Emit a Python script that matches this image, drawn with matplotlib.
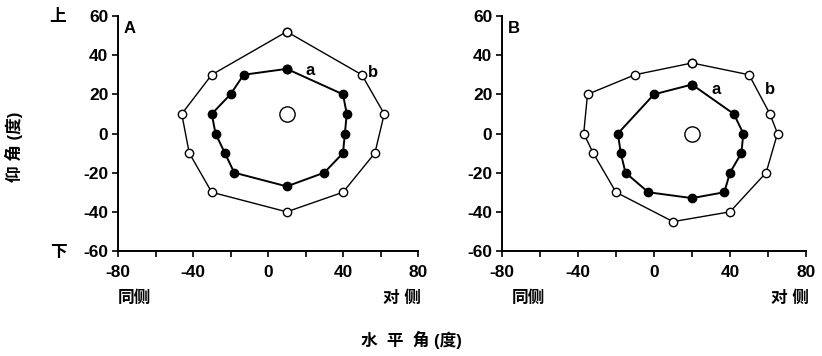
import numpy as np
import matplotlib.pyplot as plt

plt.rcParams['font.family'] = ['Liberation Sans', 'Noto Sans CJK SC']
plt.rcParams['font.weight'] = 'bold'
plt.rcParams['axes.unicode_minus'] = False

# panel A
a_in_x = [10, 40, 42, 41, 40, 30, 10, -18, -23, -28, -30, -20, -13]
a_in_y = [33, 20, 10, 0, -10, -20, -27, -20, -10, 0, 10, 20, 30]
a_out_x = [10, 50, 62, 57, 40, 10, -30, -42, -46, -30]
a_out_y = [52, 30, 10, -10, -30, -40, -30, -10, 10, 30]
a_center = (10, 10)

# panel B
b_in_x = [20, 42, 47, 46, 40, 37, 20, -3, -15, -17.5, -19, 0]
b_in_y = [25, 10, 0, -10, -20, -30, -33, -30, -20, -10, 0, 20]
b_out_x = [20, 50, 61, 65, 59, 40, 10, -20, -32, -37, -35, -10]
b_out_y = [36, 30, 10, 0, -20, -40, -45, -30, -10, 0, 20, 30]
b_center = (20, 0)

panels = [
    ('A', a_in_x, a_in_y, a_out_x, a_out_y, a_center, (22.5, 32), (56, 31)),
    ('B', b_in_x, b_in_y, b_out_x, b_out_y, b_center, (32.5, 22.5), (61, 22.5)),
]

fig = plt.figure(figsize=(8.22, 3.56), dpi=100)
rects = [[118 / 822, 105 / 356, 300 / 822, 235 / 356],
         [502 / 822, 105 / 356, 304 / 822, 235 / 356]]

for rect, (name, ix, iy, ox, oy, c, la, lb) in zip(rects, panels):
    ax = fig.add_axes(rect)
    ox_c = list(ox) + [ox[0]]
    oy_c = list(oy) + [oy[0]]
    ix_c = list(ix) + [ix[0]]
    iy_c = list(iy) + [iy[0]]
    ax.plot(ox_c, oy_c, '-o', color='black', lw=1.0, ms=6,
            mfc='white', mec='black', mew=1.0, clip_on=False)
    ax.plot(ix_c, iy_c, '-o', color='black', lw=1.4, ms=6,
            mfc='black', mec='black', clip_on=False)
    ax.plot([c[0]], [c[1]], 'o', ms=11, mfc='white', mec='black', mew=1.0)
    ax.text(la[0], la[1], 'a', fontsize=12, ha='center', va='center')
    ax.text(lb[0], lb[1], 'b', fontsize=12, ha='center', va='center')
    ax.text(0.02, 0.98, name, transform=ax.transAxes, fontsize=12,
            ha='left', va='top')
    ax.set_xlim(-80, 80)
    ax.set_ylim(-60, 60)
    ax.set_xticks([-80, -40, 0, 40, 80])
    ax.set_xticks([-60, -20, 20, 60], minor=True)
    ax.set_yticks([-60, -40, -20, 0, 20, 40, 60])
    ax.tick_params(which='both', direction='out', length=4, width=1.2,
                   labelsize=12.5, pad=3)
    ax.tick_params(axis='x', pad=6)
    for s in ['top', 'right']:
        ax.spines[s].set_visible(False)
    for s in ['left', 'bottom']:
        ax.spines[s].set_linewidth(1.4)
    ax.set_facecolor('none')

fs = 12
fig.text(134 / 822, 1 - 298 / 356, '同侧', fontsize=fs, ha='center', va='center')
fig.text(402 / 822, 1 - 298 / 356, '对 侧', fontsize=fs, ha='center', va='center')
fig.text(528 / 822, 1 - 298 / 356, '同侧', fontsize=fs, ha='center', va='center')
fig.text(790 / 822, 1 - 298 / 356, '对 侧', fontsize=fs, ha='center', va='center')
fig.text(58 / 822, 1 - 17 / 356, '上', fontsize=fs, ha='center', va='center')
fig.text(58 / 822, 1 - 252 / 356, '下', fontsize=fs, ha='center', va='center')
fig.text(14 / 822, 1 - 147 / 356, '仰 角 (度)', fontsize=fs, rotation=90,
         ha='center', va='center')
fig.text(411 / 822, 1 - 340 / 356, '水  平  角 (度)', fontsize=fs,
         ha='center', va='center')

fig.savefig('out.png', dpi=100)
